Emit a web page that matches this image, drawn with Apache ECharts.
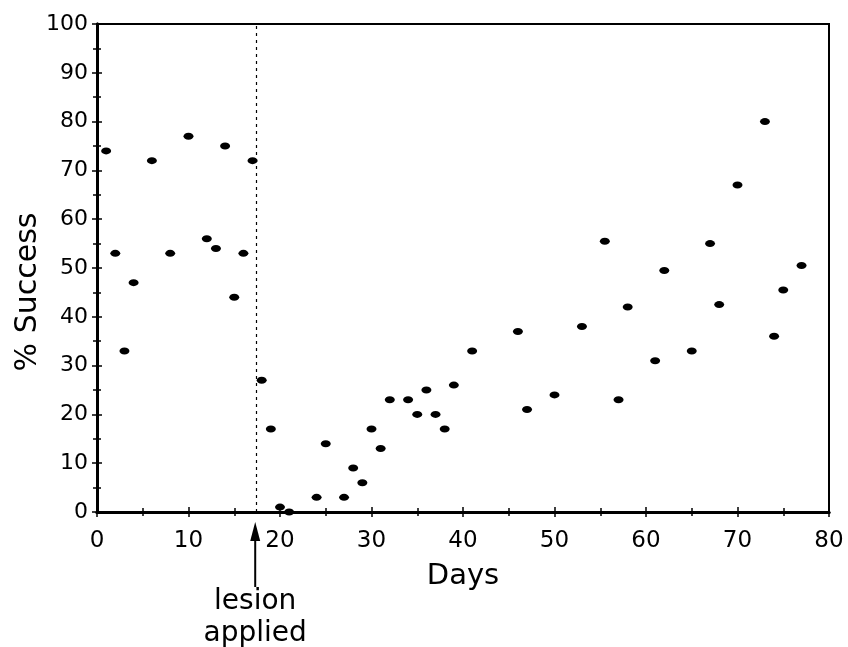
<!DOCTYPE html>
<html><head><meta charset="utf-8">
<script src="https://cdn.jsdelivr.net/npm/echarts@6/dist/echarts.min.js"></script>
<style>html,body{margin:0;padding:0;background:#fff}#c{width:848px;height:647px}</style>
</head><body><div id="c"></div>
<script>
const days = [1,2,3,4,6,8,10,12,13,14,15,16,17,
  18,19,20,21,24,25,27,28,29,30,31,32,34,35,36,37,38,39,
  41,46,47,50,53,55.5,57,58,61,62,65,67,68,70,73,74,75,77];
const success = [74,53,33,47,72,53,77,56,54,75,44,53,72,
  27,17,1,0,3,14,3,9,6,17,13,23,23,20,25,20,17,26,
  33,37,21,24,38,55.5,23,42,31,49.5,33,55,42.5,67,80,36,45.5,50.5];
const xTicks = [0,10,20,30,40,50,60,70,80];
const yTicks = [0,10,20,30,40,50,60,70,80,90,100];
const lesionDay = 17.4;
const lesionText = ['lesion','applied'];

const font = '"DejaVu Sans", "Liberation Sans", Arial, sans-serif';
const chart = echarts.init(document.getElementById('c'));
const axisCommon = {
  axisLine:{show:true,onZero:false,lineStyle:{color:'#000',width:3}},
  splitLine:{show:false},
  minorTick:{show:true,splitNumber:2,length:4,lineStyle:{color:'#000',width:1.5}},
  minorSplitLine:{show:false}
};
const data = days.map((d,i)=>[d,success[i]]);
chart.setOption({
  animation:false,
  backgroundColor:'#fff',
  grid:{left:97,right:19,top:24,bottom:135,show:true,borderColor:'#000',borderWidth:2,
    containLabel:false,outerBoundsMode:'none'},
  xAxis:[
    Object.assign({type:'value',min:0,max:80,interval:10,position:'bottom',
      name:'Days',nameLocation:'middle',nameGap:50,nameMoveOverlap:false,
      nameTextStyle:{fontFamily:font,fontSize:29,color:'#000'},
      axisTick:{show:true,length:5,inside:false,lineStyle:{color:'#000',width:1.5}},
      axisLabel:{fontFamily:font,fontSize:23,color:'#000',margin:18,
        formatter:v=>xTicks.includes(v)?String(v):''}},axisCommon),
    Object.assign({type:'value',min:0,max:80,interval:10,position:'bottom',
      axisTick:{show:true,length:5,inside:true,lineStyle:{color:'#000',width:1.5}},
      axisLabel:{show:false}},axisCommon)
  ],
  yAxis:[
    Object.assign({type:'value',min:0,max:100,interval:10,position:'left',
      name:'% Success',nameLocation:'middle',nameGap:54,nameRotate:90,nameMoveOverlap:false,
      nameTextStyle:{fontFamily:font,fontSize:30,color:'#000',padding:[0,48,0,0]},
      axisTick:{show:true,length:5,inside:false,lineStyle:{color:'#000',width:1.5}},
      axisLabel:{fontFamily:font,fontSize:22,color:'#000',margin:9,
        formatter:v=>yTicks.includes(v)?String(v):''}},axisCommon),
    Object.assign({type:'value',min:0,max:100,interval:10,position:'left',
      axisTick:{show:true,length:5,inside:true,lineStyle:{color:'#000',width:1.5}},
      axisLabel:{show:false}},axisCommon)
  ],
  series:[{
    type:'scatter',xAxisIndex:0,yAxisIndex:0,data:data,
    symbol:'circle',symbolSize:[10,7],
    itemStyle:{color:'#000',opacity:1},
    markLine:{silent:true,symbol:['none','none'],label:{show:false},
      lineStyle:{color:'#000',type:[3,4],width:1.2,opacity:1},
      data:[[{coord:[lesionDay,0]},{coord:[lesionDay,100]}]]}
  }]
});
const px = chart.convertToPixel({xAxisIndex:0},lesionDay) - 1;
const py0 = chart.convertToPixel({yAxisIndex:0},0);
chart.setOption({graphic:[
  {type:'line',shape:{x1:px,y1:py0+25,x2:px,y2:py0+75},style:{stroke:'#000',lineWidth:2}},
  {type:'polygon',shape:{points:[[px,py0+10],[px-5,py0+29],[px+5,py0+29]]},style:{fill:'#000'}},
  {type:'text',x:px,y:py0+90,style:{text:lesionText[0],font:'28px '+font,fill:'#000',align:'center',verticalAlign:'middle'}},
  {type:'text',x:px,y:py0+122,style:{text:lesionText[1],font:'28px '+font,fill:'#000',align:'center',verticalAlign:'middle'}}
]});
</script></body></html>
